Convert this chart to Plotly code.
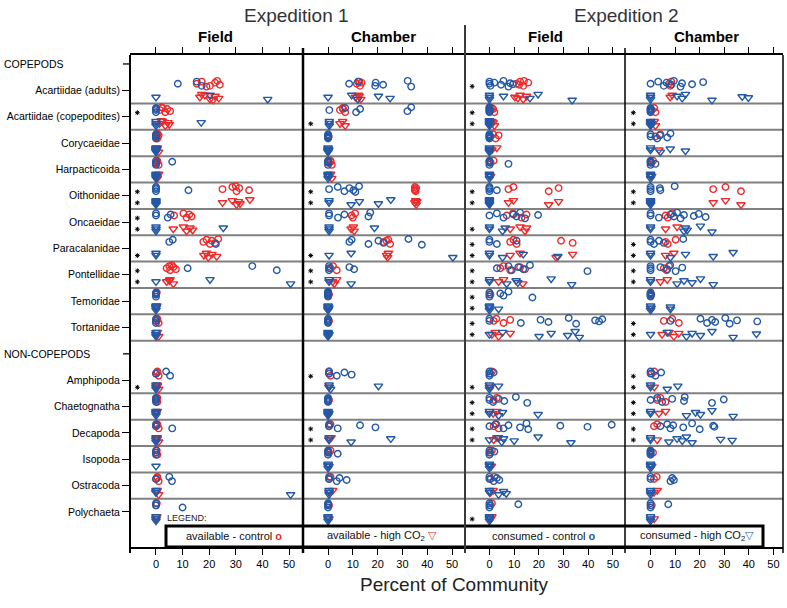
import plotly.graph_objects as go

# ---------------- data ----------------
TAXA = ["Acartiidae (adults)", "Acartiidae (copepodites)", "Corycaeidae", "Harpacticoida",
        "Oithonidae", "Oncaeidae", "Paracalanidae", "Pontellidae", "Temoridae", "Tortanidae",
        "Amphipoda", "Chaetognatha", "Decapoda", "Isopoda", "Ostracoda", "Polychaeta"]
ROW_LABELS = ["COPEPODS"] + TAXA[:10] + ["NON-COPEPODS"] + TAXA[10:]
HEADERS = ["COPEPODS", "NON-COPEPODS"]
PANELS = ["Expedition 1 Field", "Expedition 1 Chamber", "Expedition 2 Field", "Expedition 2 Chamber"]
X_TICKS = [0, 10, 20, 30, 40, 50]

# Expedition 1 - Field  (one list per taxon, same order as TAXA)
E1F_AVAIL_CTRL = [[15.3, 17.2, 20.3, 22.2, 24, 23, 19], [1.5, 2.5, 3.5, 4.2, 5.3, 2], [0, 0.5, 0.5, 1, 0, 0.5],
                  [0, 0.5, 1, 0.5, 0], [25, 28.7, 30.3, 31.3, 35, 30], [6.8, 10.3, 11.5, 12.5, 13.4],
                  [17.8, 19, 20.3, 21, 22.2, 23.4], [4, 5, 5.3, 6.5, 7.5, 6], [0, 0.3], [0, 0.5, 1, 0.5],
                  [0, 0.5, 1, 0.5], [0, 0.5, 0.5], [0, 0.5, 1, 0.5], [0, 0.3, 0.5], [0, 0.5, 1, 0.5], [0, 0.3]]
E1F_AVAIL_HIGH = [[16.5, 18.4, 20.3, 22.2, 23.6, 17.2, 21.5], [1.3, 2.5, 3.5, 4.5, 5, 2], [0, 0.5, 1, 0.5],
                  [0.5, 1, 0.5], [25, 28.7, 30.3, 31, 31.6, 35.3], [6.5, 10.3, 11.5, 12.8, 13.8],
                  [18, 19, 19.7, 21, 22.8], [4, 5.3, 6.5, 5], [0, 0.3], [0, 0.5, 1],
                  [0, 0.5, 1, 0.5], [0, 0.5], [0, 0.5, 1, 0.5], [], [0, 0.5, 1], [0, 0.3]]
E1F_CONS_CTRL = [[8.2, 15.3, 17.2], [0, 0, 0, 0], [0, 0, 0, 0], [0, 0, 0, 6.1], [0, 0, 0, 0, 12.2],
                 [0, 0, 4.4, 5.5], [5, 6.3, 22.5], [11.9, 36.2, 45.4], [0, 0, 0, 0], [0, 0, 0],
                 [0, 3.8, 5.3], [0, 0, 0, 0], [0, 0, 6.1], [0, 0, 0], [0, 5, 6], [0, 0, 10]]
E1F_CONS_HIGH = [[0, 20.3, 42], [0, 0, 0, 17], [0, 0, 0, 0, 0], [0, 0, 0, 0, 0], [0, 0, 0, 0, 0],
                 [0, 0, 0, 25.3], [0, 0], [0, 20.3, 50.6], [0, 0, 0, 0], [0, 0, 0],
                 [0, 0, 0], [0, 0, 0, 0], [0, 0, 0], [0], [0, 0, 50.6], [0, 0, 0]]

# Expedition 1 - Chamber
E1C_AVAIL_CTRL = [[11.6, 12.6, 12.9, 13.5], [4.8, 5.9, 6.9, 6], [0.3], [0.5, 1, 1.5, 1],
                  [35, 35, 35.3, 35.5, 35], [9.5, 10.9, 10], [22.4, 24.3, 25, 23.5], [1, 2, 3.5],
                  [0.4], [0.4], [0.4, 0.4, 1], [0.4], [0.4, 1], [0.4, 1], [0.4, 1], [0.4]]
E1C_AVAIL_HIGH = [[11, 12.2, 13.2, 12.5], [4.8, 5.9, 6.9], [0.3], [0.5, 1, 1.5],
                  [35, 35.3, 35.5, 35.8], [9.3, 10.2, 10.5], [23.6, 24.3, 24], [1.9, 3.5, 2.5],
                  [0.4], [0.4], [0.4], [0.4], [0.4, 1.2], [0.4], [0.5, 1.9], [0.4]]
E1C_CONS_CTRL = [[8.5, 12.1, 19, 19.2, 22.2, 32.1, 33.5], [0.5, 6.9, 11.3, 12.9, 32, 33.5], [0, 0, 0, 0, 0],
                 [0, 0, 0, 0], [0.4, 3.9, 6.6, 8.6, 10.2, 12.5, 11], [0.4, 0.4, 4, 6.6, 16.3, 17],
                 [8.6, 9.5, 16.3, 20.3, 22.4, 32.4, 37.8], [0.4, 0.4, 0.4, 8.6, 10.5], [0, 0, 0, 0, 0, 0],
                 [0, 0, 0, 0, 0], [0.4, 0.4, 3.5, 6.6, 9.5], [0, 0, 0, 0, 0], [0.4, 0.4, 3.9, 12.9, 19.1],
                 [0, 0, 0, 0, 3.9], [0.4, 0.4, 3.5, 4.6, 7.5], [0, 0, 0, 0]]
E1C_CONS_HIGH = [[0, 9.5, 12, 20.3, 25], [0.5, 0.5, 0.5], [0, 0, 0, 0, 0], [0, 0, 0, 0],
                 [0.4, 0.4, 9.3, 12.6, 20.3, 25.3], [0.4, 0.4, 0.4, 18.7], [0.4, 9.3, 50.3],
                 [0.4, 0.4, 9.3], [0, 0, 0, 0, 0], [0, 0, 0, 0, 0], [0.4, 0.4, 1, 20.3], [0, 0, 0, 0, 0],
                 [0.4, 0.4, 9.3, 25.3], [0, 0, 0, 0], [0.4, 0.4, 0.4], [0, 0, 0, 0]]

# Expedition 2 - Field
E2F_AVAIL_CTRL = [[11, 12.4, 13.7, 15.7, 12, 14], [0.5, 1, 2, 1.5], [0.4, 1.5, 2.5, 3.7], [0.5, 1.7],
                  [7.7, 9.7, 24, 28], [7, 9.5, 13, 15], [8.4, 9.7, 11, 29, 33.7], [4.4, 5.7, 8.4, 12.4, 14.4],
                  [0.4], [1.7, 2.8, 5.7, 8.4], [0.4, 1], [1.7, 3], [1.7, 2.8, 3.7], [0.4, 1], [0.5, 2], [0.4, 1]]
E2F_AVAIL_HIGH = [[10.3, 12.4, 13.7, 15, 11.5], [0.5, 1, 2, 1.5], [1, 3], [0.5],
                  [7.7, 9.7, 24, 28], [8.4, 12.4, 14.4, 15], [8.4, 12.4, 27, 33.7], [3.7, 5.7, 13.5],
                  [], [1, 2.4, 3.7, 8.4], [0.4], [1.5, 3], [1.7, 3], [0.8], [0.5, 1.5], [0.5, 1]]
E2F_CONS_CTRL = [[0, 0, 0.4, 2, 4.7, 5.7, 7.7, 8.4, 9.5], [0, 0, 0, 0, 0, 0], [0, 0, 0, 0, 0],
                 [0, 0, 0, 0, 7.7], [0, 0, 0, 0, 3], [0, 3, 5.7, 9.7, 11, 12.4, 14.4, 19.7],
                 [0, 0, 3, 11], [3, 7.7, 9, 11.7, 13.7, 16.4, 39.7], [0, 0, 0, 4.4, 5.7, 7.7, 17.4],
                 [0, 0, 12.7, 20.7, 23.9, 32.1, 35.1, 42.8, 44.4, 45.7], [0, 0, 0, 1.7],
                 [0, 0, 1.5, 3.7, 6, 10.7, 15.3], [0, 2.4, 5.7, 7.7, 12.4, 15, 15.7, 28.7, 39.7, 49.5],
                 [0, 0, 0, 2], [0, 0, 1.7, 3, 4], [0, 0, 0, 11.7]]
E2F_CONS_HIGH = [[0, 0, 0, 5.7, 16.4, 19.7, 33.5], [0, 0, 0, 0, 0, 0], [0, 0, 0, 0, 0], [0, 0, 0, 0],
                 [0, 0, 0, 0, 0, 0], [0, 0, 5.3, 6.4], [0, 0, 5.3, 13.7, 27.7],
                 [0, 0, 7, 10.8, 11.5, 25, 33.3], [0, 0, 0, 0, 3.7], [0, 5.3, 20.1, 25, 31.7, 34.7, 36.4],
                 [0, 0, 0, 3.7], [0, 0, 3.7, 5.3, 19.7], [0, 3.7, 5, 5.7, 10, 19.7, 33],
                 [0, 0, 0, 0], [0, 0, 3.7, 5.7, 6.8], [0, 0, 0, 0]]

# Expedition 2 - Chamber
E2C_AVAIL_CTRL = [[7.5, 8.4, 8], [0.5, 1.5, 2], [2, 4], [0.4, 1], [25.5, 30.5, 36.8], [6.1, 8.8, 7],
                  [6.1, 10.2, 7], [5.4, 7.5, 6.5], [0.3], [5.4, 8.8, 11.5], [0.5, 1.5], [2.7, 4, 6.1],
                  [1.4, 2.7], [1], [1.4, 2.5], [0.5]]
E2C_AVAIL_HIGH = [[8, 8.8], [0.5, 1.5, 2], [3.4], [0.5], [25.5, 30.5, 36.8], [6.1, 10.8],
                  [6.1, 9.5], [4, 6.8], [0.3], [4.7, 7.5, 9.5, 11.5], [1.5], [3.4, 6.1],
                  [2.7], [0.5], [1.4, 2.7], [1.5]]
E2C_CONS_CTRL = [[0, 3.1, 5.4, 6.5, 8.5, 9.5, 12.2, 12.8, 16.9, 21.4], [0, 0, 0, 0, 0],
                 [0, 0, 2.7, 3.8, 6.8, 8.1], [0, 0, 0, 0, 2], [0, 0, 0, 3.8, 4, 9.8],
                 [0, 0, 3.4, 8.1, 9.5, 10.8, 12.2, 13.6, 17.6, 19.6, 22.4], [0, 0, 1.4, 3.4, 5.4, 13.3],
                 [0, 0, 0, 4, 6.8, 8, 10.2, 12.9], [0, 0, 0, 0, 0],
                 [8.1, 20.3, 23, 25, 26.3, 30.4, 32.2, 35.2, 43.4], [0, 0, 2, 4.3],
                 [0, 2.7, 4.7, 8.8, 13.6, 13.9, 25, 29.8], [4, 6.8, 8.1, 9.2, 13.3, 16.9, 20, 25.5, 26],
                 [0, 0, 0, 0, 0], [0, 0, 8.1, 8.8, 9.5], [0, 0, 0, 7.2]]
E2C_CONS_HIGH = [[0, 0, 0, 10.8, 12.9, 14.2, 25, 37.3, 39.8], [0, 0, 0, 0, 0], [0, 0, 4, 8, 14.2],
                 [0, 0, 0, 0], [0, 0, 0, 0, 0], [0, 0, 13.6, 14.2, 14.9, 20.3, 25],
                 [0, 0, 8.1, 14.2, 25.5, 33.6], [0, 0, 10.8, 13.6, 16.9, 20.3, 25.5], [0, 0, 0, 8.1, 8.1],
                 [0, 6.8, 14.6, 16.9, 20.3, 25, 33.6, 43.1], [0, 0, 6.8, 11.1],
                 [0, 0, 14.6, 18.3, 20.3, 25, 33.6], [0, 0, 7.5, 10.8, 12.9, 14.6, 16.9, 28.5, 33.2],
                 [0, 0, 0, 0], [0, 0, 0], [0, 0, 0]]

# significance markers (*): control (upper) and high CO2 (lower) per panel
SIG_CTRL = [
    ["Acartiidae (copepodites)", "Oithonidae", "Oncaeidae", "Pontellidae"],
    ["Oithonidae", "Pontellidae", "Amphipoda", "Decapoda"],
    ["Acartiidae (adults)", "Acartiidae (copepodites)", "Oithonidae", "Paracalanidae", "Pontellidae",
     "Temoridae", "Tortanidae", "Chaetognatha", "Decapoda"],
    ["Acartiidae (copepodites)", "Oithonidae", "Paracalanidae", "Pontellidae", "Tortanidae",
     "Amphipoda", "Chaetognatha", "Decapoda"],
]
SIG_HIGH = [
    ["Oithonidae", "Oncaeidae", "Paracalanidae", "Pontellidae", "Amphipoda"],
    ["Acartiidae (copepodites)", "Oithonidae", "Paracalanidae", "Pontellidae", "Decapoda"],
    ["Acartiidae (copepodites)", "Oithonidae", "Oncaeidae", "Paracalanidae", "Pontellidae", "Temoridae",
     "Tortanidae", "Amphipoda", "Chaetognatha", "Decapoda", "Polychaeta"],
    ["Acartiidae (copepodites)", "Oithonidae", "Paracalanidae", "Pontellidae", "Tortanidae",
     "Amphipoda", "Chaetognatha", "Decapoda"],
]

PANEL_DATA = [
    (E1F_AVAIL_CTRL, E1F_AVAIL_HIGH, E1F_CONS_CTRL, E1F_CONS_HIGH),
    (E1C_AVAIL_CTRL, E1C_AVAIL_HIGH, E1C_CONS_CTRL, E1C_CONS_HIGH),
    (E2F_AVAIL_CTRL, E2F_AVAIL_HIGH, E2F_CONS_CTRL, E2F_CONS_HIGH),
    (E2C_AVAIL_CTRL, E2C_AVAIL_HIGH, E2C_CONS_CTRL, E2C_CONS_HIGH),
]

# ---------------- style ----------------
RED = "#EE2A2A"
BLUE = "#2358A6"
SANS = "Liberation Sans, Arial, Helvetica, sans-serif"
JIT = [0.0, -0.08, 0.08, -0.04, 0.04, -0.11, 0.11, -0.02, 0.02, -0.06, 0.06, 0.09]
ROW_OF = {name: i for i, name in enumerate(ROW_LABELS)}

# pixel geometry of the plot area (787x608 picture)
L, R, T, B = 130, 783, 55, 547
PW, PH = R - L, B - T
EDGES = [130, 303, 465, 625, 783]
RANGES = [[-9.77, 55.26], [-10.1, 55.2], [-9.9, 54.9], [-10.4, 53.9]]
FIG_W, FIG_H = 787, 608


def px(x):
    return (x - L) / PW


def py(y):
    return (B - y) / PH


fig = go.Figure()

series_style = [
    (RED, "circle-open", -0.25, 6.5),
    (RED, "triangle-down-open", 0.26, 7.5),
    (BLUE, "circle-open", -0.25, 6.5),
    (BLUE, "triangle-down-open", 0.26, 7.5),
]

for p, data in enumerate(PANEL_DATA):
    xa = "x" if p == 0 else f"x{p + 1}"
    for s, series in enumerate(data):
        color, sym, base, size = series_style[s]
        xs, ys = [], []
        for t, vals in enumerate(series):
            row = ROW_OF[TAXA[t]]
            for i, v in enumerate(vals):
                xs.append(v)
                ys.append(row + base + JIT[i % len(JIT)])
        fig.add_trace(go.Scatter(
            x=xs, y=ys, mode="markers", xaxis=xa, yaxis="y", showlegend=False, hoverinfo="skip",
            marker=dict(symbol=sym, size=size, color=color, line=dict(color=color, width=1.4))))
    # significance asterisks
    sx, sy = [], []
    for name in SIG_CTRL[p]:
        sx.append(-7); sy.append(ROW_OF[name] - 0.15)
    for name in SIG_HIGH[p]:
        sx.append(-7); sy.append(ROW_OF[name] + 0.27)
    fig.add_trace(go.Scatter(
        x=sx, y=sy, mode="markers", xaxis=xa, yaxis="y", showlegend=False, hoverinfo="skip",
        marker=dict(symbol="asterisk-open", size=4, color="black", line=dict(color="black", width=1))))

shapes = []
# row separators
for k in range(len(ROW_LABELS) - 1):
    a, b = ROW_LABELS[k], ROW_LABELS[k + 1]
    if a in HEADERS or (b in HEADERS and a != "Tortanidae"):
        continue
    shapes.append(dict(type="line", xref="paper", yref="y", x0=0, x1=1, y0=k + 0.5, y1=k + 0.5,
                       line=dict(color="#808080", width=2), layer="below"))
# tick marks for the group headers
for h in HEADERS:
    shapes.append(dict(type="line", xref="paper", yref="y", x0=px(123), x1=px(130), y0=ROW_OF[h], y1=ROW_OF[h],
                       line=dict(color="black", width=1.3)))

# legend box
shapes.append(dict(type="rect", xref="paper", yref="paper", x0=px(166), x1=px(763), y0=py(547), y1=py(526),
                   fillcolor="white", line=dict(color="black", width=3), layer="above"))
# frame & dividers
shapes.append(dict(type="line", xref="paper", yref="paper", x0=0, x1=0, y0=py(553), y1=py(55),
                   line=dict(color="black", width=2), layer="above"))
shapes.append(dict(type="line", xref="paper", yref="paper", x0=1, x1=1, y0=py(553), y1=py(55),
                   line=dict(color="black", width=1.5), layer="above"))
shapes.append(dict(type="line", xref="paper", yref="paper", x0=px(303), x1=px(303), y0=py(553), y1=py(48),
                   line=dict(color="black", width=2.5), layer="above"))
shapes.append(dict(type="line", xref="paper", yref="paper", x0=px(465), x1=px(465), y0=py(553), y1=py(25),
                   line=dict(color="#3a3a3a", width=2), layer="above"))
shapes.append(dict(type="line", xref="paper", yref="paper", x0=px(625), x1=px(625), y0=py(553), y1=py(48),
                   line=dict(color="black", width=1.5), layer="above"))

annotations = []
# group headers
for h in HEADERS:
    annotations.append(dict(text=h, xref="paper", yref="y", x=px(2), y=ROW_OF[h], xanchor="left",
                            yanchor="middle", showarrow=False, font=dict(family=SANS, size=10.5, color="black")))
# titles
for txt, x in [("Expedition 1", 296), ("Expedition 2", 626)]:
    annotations.append(dict(text=txt, xref="paper", yref="paper", x=px(x), y=py(15), showarrow=False,
                            xanchor="center", yanchor="middle", font=dict(family=SANS, size=19, color="#333333")))
for txt, x in [("Field", 215), ("Chamber", 383), ("Field", 545), ("Chamber", 706)]:
    annotations.append(dict(text=f"<b>{txt}</b>", xref="paper", yref="paper", x=px(x), y=py(36),
                            showarrow=False, xanchor="center", yanchor="middle",
                            font=dict(family=SANS, size=15, color="black")))
annotations.append(dict(text="Percent of Community", xref="paper", yref="paper", x=px(454), y=py(584),
                        showarrow=False, xanchor="center", yanchor="middle",
                        font=dict(family=SANS, size=19, color="#222222")))
# legend
annotations.append(dict(text="LEGEND:", xref="paper", yref="paper", x=px(165), y=py(518), showarrow=False,
                        xanchor="left", yanchor="middle", font=dict(family=SANS, size=9, color="#222222")))
leg_items = [
    (f"available - control <span style='color:{RED}'><b>o</b></span>", 234),
    (f"available - high CO<sub>2</sub> <span style='color:{RED}'>▽</span>", 382),
    (f"consumed - control <span style='color:{BLUE}'><b>o</b></span>", 544),
    (f"consumed - high CO<sub>2</sub><span style='color:{BLUE}'>▽</span>", 697),
]
for txt, x in leg_items:
    annotations.append(dict(text=txt, xref="paper", yref="paper", x=px(x), y=py(536), showarrow=False,
                            xanchor="center", yanchor="middle", font=dict(family=SANS, size=11, color="#111111")))

layout = dict(
    width=FIG_W, height=FIG_H, paper_bgcolor="white", plot_bgcolor="white",
    margin=dict(l=L, r=FIG_W - R, t=T, b=FIG_H - B, autoexpand=False),
    shapes=shapes, annotations=annotations, showlegend=False,
    yaxis=dict(range=[18.33, -0.34], tickvals=[ROW_OF[t] for t in TAXA], ticktext=TAXA,
               ticks="outside", ticklen=7, tickwidth=1.3, tickcolor="black", automargin=False,
               showline=False, showgrid=False, zeroline=False, anchor="x",
               tickfont=dict(family=SANS, size=10.5, color="black")),
)
for p in range(4):
    key = "xaxis" if p == 0 else f"xaxis{p + 1}"
    layout[key] = dict(
        domain=[px(EDGES[p]), px(EDGES[p + 1])], range=RANGES[p], anchor="y", automargin=False,
        tickvals=X_TICKS, ticktext=[str(v) for v in X_TICKS],
        ticks="outside", ticklen=6, tickwidth=1.2, tickcolor="black",
        showline=True, linecolor="black", linewidth=1.5, mirror="ticks",
        showgrid=False, zeroline=False, tickfont=dict(family=SANS, size=11, color="black"))

fig.update_layout(**layout)
# remove the browser's default page margin so the figure sits at the window's top-left corner
fig.write_html("out.html", config={"displayModeBar": False},
               post_script="document.body.style.margin='0';document.body.style.overflow='hidden';")
